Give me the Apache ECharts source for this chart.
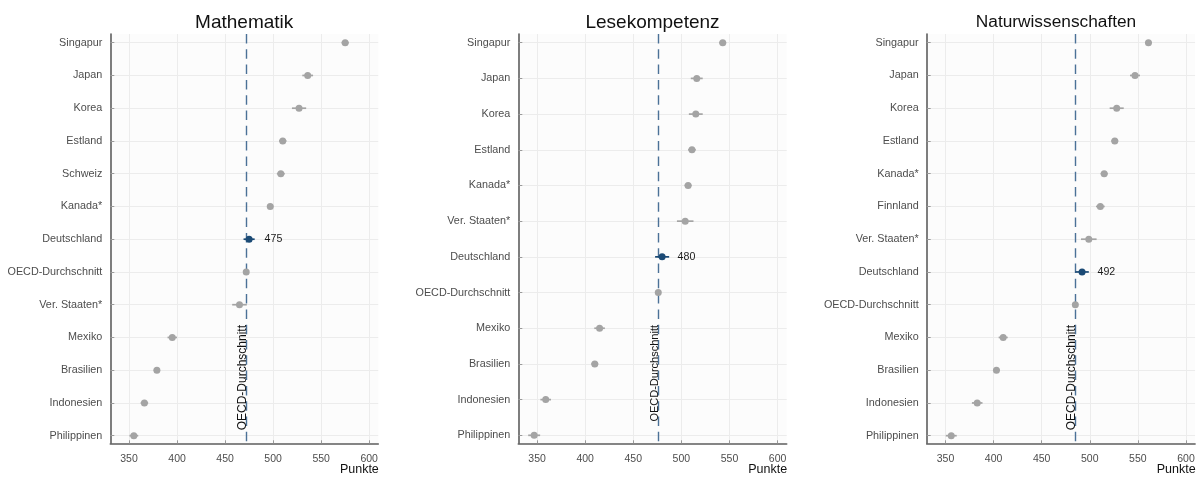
<!DOCTYPE html>
<html>
<head>
<meta charset="utf-8">
<script src="https://cdn.jsdelivr.net/npm/echarts@6/dist/echarts.min.js"></script>
<style>
html,body{margin:0;padding:0;background:#ffffff;}
#c{width:1201px;height:477px;}
</style>
</head>
<body>
<div id="c"></div>
<script>
// ---- data ----
const titles = ['Mathematik', 'Lesekompetenz', 'Naturwissenschaften'];
const xTicks = [350, 400, 450, 500, 550, 600];
const highlightName = 'Deutschland';
const axisTitle = 'Punkte';
const oecdLabel = 'OECD-Durchschnitt';

const catsMath = ['Singapur', 'Japan', 'Korea', 'Estland', 'Schweiz', 'Kanada*', 'Deutschland', 'OECD-Durchschnitt', 'Ver. Staaten*', 'Mexiko', 'Brasilien', 'Indonesien', 'Philippinen'];
const valsMath = [575, 536, 527, 510, 508, 497, 475, 472, 465, 395, 379, 366, 355];
const ciMath   = [3.7, 5.6, 7.4, 3.9, 4.1, 3.2, 5.8, 0.8, 7.6, 4.9, 3.2, 3.9, 4.6];
const oecdMath = 472;

const catsRead = ['Singapur', 'Japan', 'Korea', 'Estland', 'Kanada*', 'Ver. Staaten*', 'Deutschland', 'OECD-Durchschnitt', 'Mexiko', 'Brasilien', 'Indonesien', 'Philippinen'];
const valsRead = [543, 516, 515, 511, 507, 504, 480, 476, 415, 410, 359, 347];
const ciRead   = [3.6, 6.2, 7.2, 4.0, 3.7, 8.6, 7.3, 1.0, 5.5, 3.6, 5.5, 6.2];
const oecdRead = 476;

const catsSci = ['Singapur', 'Japan', 'Korea', 'Estland', 'Kanada*', 'Finnland', 'Ver. Staaten*', 'Deutschland', 'OECD-Durchschnitt', 'Mexiko', 'Brasilien', 'Indonesien', 'Philippinen'];
const valsSci = [561, 547, 528, 526, 515, 511, 499, 492, 485, 410, 403, 383, 356];
const ciSci   = [3.5, 5.2, 7.3, 3.6, 3.7, 4.5, 8.1, 7.0, 0.8, 4.7, 3.5, 5.5, 5.7];
const oecdSci = 485;

// ---- layout / style ----
const FONT = '"Liberation Sans", Arial, Helvetica, sans-serif';
const panels = [
  {cats: catsMath, vals: valsMath, ci: ciMath, oecd: oecdMath, left: 110.3, width: 268, titleX: 244.2, titleSize: 19, oecdFont: 12},
  {cats: catsRead, vals: valsRead, ci: ciRead, oecd: oecdRead, left: 518.3, width: 268.4, titleX: 652.5, titleSize: 19, oecdFont: 11},
  {cats: catsSci,  vals: valsSci,  ci: ciSci,  oecd: oecdSci,  left: 926.7, width: 268.4, titleX: 1056, titleSize: 17.3, oecdFont: 12}
];
const TOP = 34, HEIGHT = 409.3;
const X_MIN = 330.5, X_MAX = 609.5;
const GREY = '#a4a4a4', NAVY = '#1b4a75', DASH = '#4b7197';

const grids = [], xAxes = [], yAxes = [], series = [], graphics = [];

panels.forEach((p, i) => {
  const n = p.cats.length;
  const padTop = n === 13 ? 0.266 : 0.244;
  const padBot = n === 13 ? 0.232 : 0.224;
  const idx = p.cats.map((_, k) => k);
  grids.push({left: p.left, top: TOP, width: p.width, height: HEIGHT, show: true,
    backgroundColor: '#fcfcfc', borderWidth: 0, containLabel: false});
  xAxes.push({
    type: 'value', gridIndex: i, min: X_MIN, max: X_MAX,
    axisLine: {show: true, onZero: false, lineStyle: {color: '#5e5e5e', width: 1.6}},
    axisTick: {show: true, inside: true, length: 3, customValues: xTicks, lineStyle: {color: '#9a9a9a', width: 1}},
    axisLabel: {show: true, customValues: xTicks, margin: 10, color: '#4d4d4d', fontSize: 10.5, fontFamily: FONT},
    splitLine: {show: true, lineStyle: {color: '#ececec', width: 1}},
    minorSplitLine: {show: false}
  });
  yAxes.push({
    type: 'value', gridIndex: i, inverse: true, min: -padTop, max: n - 1 + padBot,
    axisLine: {show: true, onZero: false, lineStyle: {color: '#5e5e5e', width: 1.6}},
    axisTick: {show: true, inside: true, length: 4, customValues: idx, lineStyle: {color: '#9a9a9a', width: 1}},
    axisLabel: {show: true, customValues: idx, margin: 8, color: '#4d4d4d', fontSize: 10.8, fontFamily: FONT,
      formatter: v => p.cats[Math.round(v)] || ''},
    splitLine: {show: true, lineStyle: {color: '#ececec', width: 1}}
  });
  // error bars + OECD dashed line
  series.push({
    type: 'custom', xAxisIndex: i, yAxisIndex: i, z: 2, silent: true, animation: false,
    data: p.cats.map((c, k) => [p.vals[k] - p.ci[k], p.vals[k] + p.ci[k], k, c === highlightName ? 1 : 0]),
    encode: {x: [0, 1], y: 2},
    renderItem: (params, api) => {
      const a = api.coord([api.value(0), api.value(2)]);
      const b = api.coord([api.value(1), api.value(2)]);
      return {type: 'line', shape: {x1: a[0], y1: a[1], x2: b[0], y2: b[1]},
        style: {stroke: api.value(3) ? NAVY : GREY, lineWidth: 1.7}};
    },
    markLine: {
      silent: true, symbol: ['none', 'none'], animation: false, z: 1,
      label: {show: false},
      lineStyle: {type: [9.5, 5.8], color: DASH, width: 1.4},
      data: [{xAxis: p.oecd}]
    }
  });
  // points
  series.push({
    type: 'scatter', xAxisIndex: i, yAxisIndex: i, z: 3, animation: false, symbolSize: 7,
    data: p.cats.map((c, k) => ({
      value: [p.vals[k], k],
      itemStyle: {color: c === highlightName ? NAVY : GREY, opacity: 1},
      label: {show: c === highlightName, position: 'right', distance: 12,
        formatter: String(p.vals[k]), color: '#1a1a1a', fontSize: 10.6, fontFamily: FONT}
    }))
  });
  // title
  graphics.push({type: 'text', x: p.titleX, y: 22.5, z: 10,
    style: {text: titles[i], fill: '#111', font: 'normal ' + p.titleSize + 'px ' + FONT,
      textAlign: 'center', textVerticalAlign: 'middle', align: 'center', verticalAlign: 'middle'}});
  // axis title
  graphics.push({type: 'text', x: p.left + p.width + 0.5, y: 469.5, z: 10,
    style: {text: axisTitle, fill: '#111', font: 'normal 12.5px ' + FONT,
      textAlign: 'right', textVerticalAlign: 'middle', align: 'right', verticalAlign: 'middle'}});
});

const chart = echarts.init(document.getElementById('c'), null, {renderer: 'canvas'});
chart.setOption({
  animation: false,
  grid: grids, xAxis: xAxes, yAxis: yAxes, series: series, graphic: graphics
});

// rotated OECD labels placed via the axis scale
panels.forEach((p, i) => {
  const px = chart.convertToPixel({gridIndex: i}, [p.oecd, 0]);
  graphics.push({type: 'text', x: px[0] + 2, y: 325, rotation: Math.PI / 2, z: 10,
    style: {text: oecdLabel, fill: '#111', font: 'normal ' + p.oecdFont + 'px ' + FONT,
      textAlign: 'right', textVerticalAlign: 'bottom', align: 'right', verticalAlign: 'bottom'}});
});
chart.setOption({graphic: graphics});
</script>
</body>
</html>
